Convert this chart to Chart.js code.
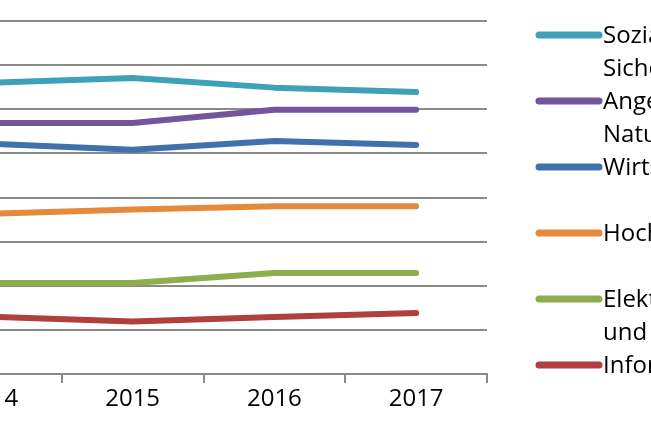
<!DOCTYPE html>
<html>
<head>
<meta charset="utf-8">
<script src="https://cdn.jsdelivr.net/npm/chart.js@4.4.1/dist/chart.umd.min.js"></script>
<style>
  html, body { margin: 0; padding: 0; background: #fff; overflow: hidden; }
  #wrap { position: absolute; left: -90px; top: 0; width: 741px; height: 433px; }
</style>
</head>
<body>
<div id="wrap"><canvas id="myChart"></canvas></div>
<script>
const years = ['2014', '2015', '2016', '2017']

const labels = [
  ['Sozialwesen und', 'Sicherheit'],
  ['Angewandte', 'Naturwissenschaften'],
  ['Wirtschaft'],
  ['Hochschule'],
  ['Elektrotechnik', 'und Informationstechnik'],
  ['Informatik']
]

const soziales = [6.60, 6.71, 6.49, 6.39]
const naturwiss = [5.69, 5.69, 5.99, 5.99]
const wirtschaft = [5.22, 5.08, 5.28, 5.19]
const hochschule = [3.63, 3.73, 3.80, 3.80]
const elektro = [2.06, 2.06, 2.29, 2.29]
const informatik = [1.30, 1.19, 1.29, 1.38]

const colors = ['#3ea1b7', '#72559a', '#4070ae', '#e7893b', '#8dad4f', '#b13f3d']
const series = [soziales, naturwiss, wirtschaft, hochschule, elektro, informatik]

const fontFamily = '"Open Sans", sans-serif'

// legend drawn by hand so labels can wrap like the original
const sideLegend = {
  id: 'sideLegend',
  afterDraw (chart) {
    const ctx = chart.ctx
    const area = chart.chartArea
    const x0 = area.right + 52
    ctx.save()
    ctx.font = '24px ' + fontFamily
    ctx.textBaseline = 'middle'
    chart.data.datasets.forEach((ds, i) => {
      const y = area.top + 14 + 66 * i
      ctx.strokeStyle = ds.borderColor
      ctx.lineWidth = 7
      ctx.lineCap = 'round'
      ctx.beginPath()
      ctx.moveTo(x0, y)
      ctx.lineTo(x0 + 60, y)
      ctx.stroke()
      ctx.fillStyle = '#000'
      labels[i].forEach((line, j) => {
        ctx.fillText(line, x0 + 64, y + 1 + 33 * j)
      })
    })
    ctx.restore()
  }
}

const datasets = series.map((data, i) => ({
  label: labels[i].join(' '),
  data: data,
  borderColor: colors[i],
  backgroundColor: colors[i],
  borderWidth: 6,
  borderCapStyle: 'round',
  borderJoinStyle: 'round',
  pointRadius: 0,
  tension: 0
}))

new Chart(document.getElementById('myChart'), {
  type: 'line',
  data: { labels: years, datasets: datasets },
  options: {
    responsive: true,
    maintainAspectRatio: false,
    animation: false,
    layout: { padding: { left: 10, right: 164, top: 21, bottom: 0 } },
    plugins: {
      legend: { display: false },
      tooltip: { enabled: false }
    },
    scales: {
      x: {
        offset: true,
        grid: {
          offset: true,
          drawOnChartArea: false,
          drawTicks: true,
          tickLength: 9,
          color: '#8a8a8a',
          lineWidth: 2
        },
        border: { display: true, color: '#8a8a8a', width: 2 },
        ticks: {
          color: '#000',
          padding: 2,
          font: { family: fontFamily, size: 24 }
        },
        afterFit (scale) { scale.height = 59 }
      },
      y: {
        min: 0,
        max: 8,
        ticks: { display: false, stepSize: 1 },
        grid: { color: '#8a8a8a', lineWidth: 2, drawTicks: false, tickLength: 0 },
        border: { display: false },
        afterFit (scale) { scale.width = 0 }
      }
    }
  },
  plugins: [sideLegend]
})
</script>
</body>
</html>
